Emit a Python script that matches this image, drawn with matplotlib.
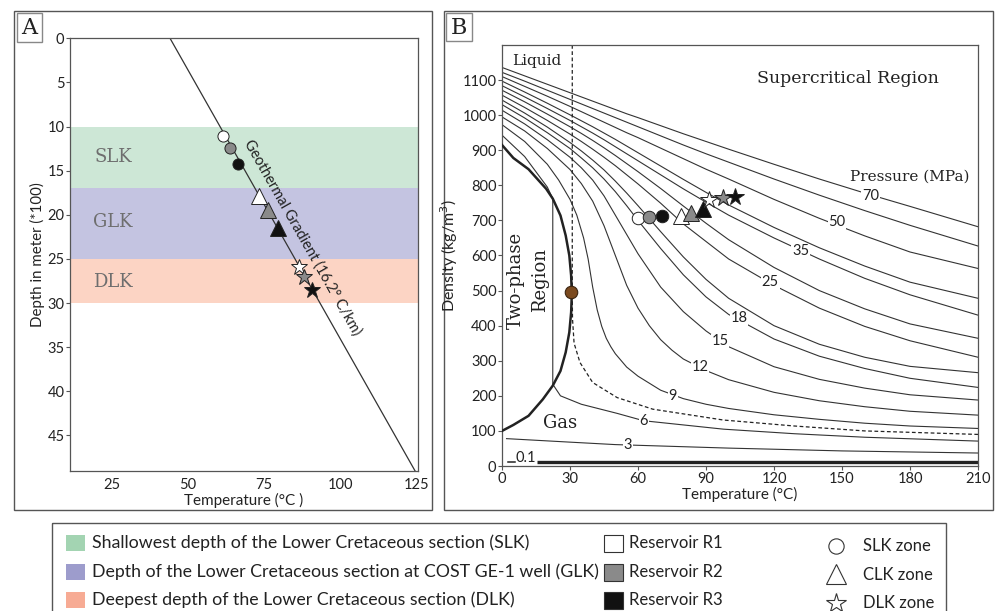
import matplotlib
matplotlib.use('Agg')
import matplotlib.pyplot as plt
from matplotlib.patches import Rectangle

W, H = 996, 611
SANS = 'Lato'
SERIF = 'DejaVu Serif'
plt.rcParams['font.family'] = [SANS, 'DejaVu Sans']

# ---------------- Panel A data ----------------
band_names = ['SLK', 'GLK', 'DLK']
band_top = [10, 17, 25]
band_bottom = [17, 25, 30]
band_colors = ['#cde7d6', '#c4c4e1', '#fcd4c4']
band_label_depth = [13.5, 20.8, 27.6]

gradient_temp = [44.1, 124.4]
gradient_depth = [0, 49]

a_temp = [61.4, 63.8, 66.5, 73.3, 76.3, 79.4, 86.4, 88.1, 90.8]
a_depth = [11.1, 12.4, 14.2, 17.9, 19.5, 21.5, 25.9, 27.1, 28.5]
zone_marker = ['o', 'o', 'o', '^', '^', '^', '*', '*', '*']
res_color = ['#ffffff', '#8a8a8a', '#111111'] * 3

# ---------------- Panel B data ----------------
T_grid = [0, 10, 20, 30, 35, 40, 45, 50, 55, 60, 70, 80, 90, 100, 120, 140, 160, 180, 210]
rho_70 = [1136, 1112, 1088, 1064, 1052, 1040, 1028, 1016, 1004, 993, 970, 947, 925, 903, 860, 818, 778, 740, 682]
rho_60 = [1122, 1097, 1071, 1045, 1032, 1019, 1006, 993, 980, 967, 941, 915, 890, 866, 818, 772, 728, 686, 627]
rho_50 = [1110, 1082, 1054, 1025, 1010, 995, 980, 965, 950, 936, 906, 876, 846, 818, 760, 706, 656, 610, 563]
rho_40 = [1097, 1066, 1034, 1001, 984, 967, 949, 931, 912, 893, 855, 817, 780, 744, 680, 622, 570, 524, 478]
rho_35 = [1084, 1052, 1019, 985, 967, 949, 930, 910, 890, 870, 830, 790, 752, 715, 650, 590, 535, 488, 430]
rho_30 = [1071, 1038, 1003, 967, 948, 928, 907, 885, 862, 839, 791, 741, 692, 645, 566, 500, 448, 405, 364]
rho_25 = [1057, 1022, 985, 946, 925, 903, 880, 856, 830, 804, 749, 690, 640, 590, 515, 450, 398, 357, 310]
rho_20 = [1043, 1006, 966, 922, 898, 872, 844, 812, 778, 742, 668, 596, 532, 478, 400, 347, 310, 284, 266]
rho_18 = [1030, 992, 950, 905, 878, 850, 818, 782, 742, 700, 620, 545, 482, 432, 362, 313, 278, 250, 224]
rho_15 = [1014, 975, 930, 880, 850, 815, 770, 715, 660, 605, 510, 440, 385, 340, 283, 247, 222, 203, 188]

T_12 = [0, 10, 20, 30, 35, 40, 45, 50, 55, 60, 65, 70, 75, 80, 90, 100, 120, 140, 160, 180, 210]
rho_12 = [995, 955, 905, 845, 805, 755, 685, 600, 515, 450, 400, 360, 330, 305, 272, 246, 210, 186, 169, 156, 145]

T_9 = [0, 10, 20, 25, 30, 33, 36, 38, 40, 42, 44, 46, 48, 50, 55, 60, 70, 80, 90, 100, 120, 140, 160, 180, 210]
rho_9 = [973, 925, 860, 815, 760, 715, 650, 590, 510, 445, 398, 364, 340, 320, 282, 256, 216, 192, 176, 164, 146, 133, 122, 114, 107]

T_6 = [0, 10, 20, 22.4, 22.4, 25.8, 35, 50.8, 62.5, 97.7, 129, 160, 210]
rho_6 = [943, 882, 795, 762, 233, 200, 176, 150, 129, 105, 92, 82, 71]
T_3 = [2, 30, 50, 100, 150, 210]
rho_3 = [78, 68, 61, 51, 43, 37]
T_01 = [15.6, 210]
rho_01 = [12, 12]

T_crit = [31, 31, 31.1, 31.8, 34.4, 40, 50.8, 66.5, 97.7, 129, 160, 210]
rho_crit = [1200, 490, 420, 350, 295, 238, 195, 162, 131, 114, 100, 90]

T_sat_liq = [0, 5, 11.7, 19.5, 22.4, 25.8, 28.1, 29.7, 30.5, 30.8]
rho_sat_liq = [915, 878, 846, 790, 762, 714, 657, 600, 543, 490]
T_sat_gas = [0, 5, 11.7, 18, 22.4, 25.8, 28.1, 29.7, 30.5, 30.8]
rho_sat_gas = [100, 117, 143, 190, 229, 271, 324, 381, 438, 490]

crit_point = (30.6, 495)

label_text = ['70', '50', '35', '25', '18', '15', '12', '9', '6', '3', '0.1']
label_T = [162.6, 147.8, 131.8, 118.4, 104.5, 96.2, 87.3, 75.4, 62.5, 55.5, 10.6]
label_rho = [771, 695, 612, 524, 421, 355, 283, 200, 129, 60, 22]

b_temp = [60.0, 65.0, 70.5, 78.8, 83.4, 88.5, 91.5, 97.4, 102.8]
b_rho = [706, 711, 712, 712, 722, 732, 759, 764, 766]

# ---------------- Legend data ----------------
legend_bands = ['Shallowest depth of the Lower Cretaceous section (SLK)',
                'Depth of the Lower Cretaceous section at COST GE-1 well (GLK)',
                'Deepest depth of the Lower Cretaceous section (DLK)']
legend_band_colors = ['#a3d4b2', '#9d9ccc', '#f7ab94']
legend_res = ['Reservoir R1', 'Reservoir R2', 'Reservoir R3']
legend_zones = ['SLK zone', 'CLK zone', 'DLK zone']
legend_zone_markers = ['o', '^', '*']


def rect(l, t, r, b):
    return [l / W, 1 - b / H, (r - l) / W, (b - t) / H]


fig = plt.figure(figsize=(W / 100, H / 100), dpi=100)
fig.patch.set_facecolor('white')

# overlay in pixel coords
ov = fig.add_axes([0, 0, 1, 1])
ov.set_xlim(0, W)
ov.set_ylim(H, 0)
ov.axis('off')
ov.patch.set_alpha(0)

EDGE = '#555555'
TXT = '#222222'
# panel frames
ov.add_patch(Rectangle((14, 11), 418, 499, fill=False, ec=EDGE, lw=1))
ov.add_patch(Rectangle((444, 11), 549, 499, fill=False, ec=EDGE, lw=1))
# panel letters
ov.add_patch(Rectangle((17, 13), 25, 29, fill=False, ec='#888888', lw=1))
ov.text(29.5, 28, 'A', family=SERIF, fontsize=16, ha='center', va='center', color=TXT)
ov.add_patch(Rectangle((446, 13), 26, 28, fill=False, ec='#888888', lw=1))
ov.text(459, 27.5, 'B', family=SERIF, fontsize=16, ha='center', va='center', color=TXT)

# legend frame
ov.add_patch(Rectangle((52, 523), 894, 100, fill=False, ec=EDGE, lw=1))
rows = [543, 572, 600]
for i in range(3):
    y = rows[i]
    ov.add_patch(Rectangle((66, y - 8), 19, 16, fc=legend_band_colors[i], ec='none'))
    ov.text(92, y, legend_bands[i], fontsize=12.8, va='center', ha='left', color=TXT)
    ov.add_patch(Rectangle((604, y - 8), 19, 17, fc=res_color[i], ec='#333333', lw=0.8))
    ov.text(629, y, legend_res[i], fontsize=12, va='center', ha='left', color=TXT)
    ov.plot([836], [rows[i] + (2 if i == 1 else 3)], marker=legend_zone_markers[i],
            ms=[11, 14, 15][i], mfc='white', mec='#333333', mew=0.8, ls='none')
    ov.text(863, y + 3, legend_zones[i], fontsize=12, va='center', ha='left', color=TXT)

# ---------------- Panel A ----------------
axA = fig.add_axes(rect(70, 38.3, 418, 470.7))
axA.set_xlim(11.3, 125.4)
axA.set_ylim(49, 0)
for i in range(3):
    axA.axhspan(band_top[i], band_bottom[i], color=band_colors[i], lw=0, zorder=0)
    axA.text(25.4, band_label_depth[i], band_names[i], family=SERIF, fontsize=13,
             color='#6e6e6e', ha='center', va='center')
axA.plot(gradient_temp, gradient_depth, color='#333333', lw=0.9, zorder=2)
axA.text(87.7, 22.6, 'Geothermal Gradient (16.2° C/km)', rotation=-60.4,
         rotation_mode='anchor', ha='center', va='center', fontsize=10.5, color=TXT)
a_sizes = {'o': 8, '^': 11, '*': 12}
for i in range(len(a_temp)):
    axA.plot(a_temp[i], a_depth[i], marker=zone_marker[i], ms=a_sizes[zone_marker[i]],
             mfc=res_color[i], mec='#222222', mew=0.7, ls='none', zorder=3)
axA.set_yticks([0, 5, 10, 15, 20, 25, 30, 35, 40, 45])
axA.set_xticks([25, 50, 75, 100, 125])
axA.tick_params(axis='y', direction='out', length=3, width=0.8, color=EDGE,
                labelsize=10.5, labelcolor=TXT, pad=1)
axA.tick_params(axis='x', length=0, labelsize=10.5, labelcolor=TXT, pad=5)
for s in axA.spines.values():
    s.set_color(EDGE)
    s.set_linewidth(0.9)
axA.set_ylabel('Depth in meter (*100)', fontsize=10.8, color=TXT, labelpad=2)
axA.set_xlabel('Temperature (°C )', fontsize=11, color=TXT, labelpad=1)

# ---------------- Panel B ----------------
axB = fig.add_axes(rect(502, 45, 978, 466))
axB.set_xlim(0, 210)
axB.set_ylim(0, 1200)
LC = '#333333'
for r in [rho_70, rho_60, rho_50, rho_40, rho_35, rho_30, rho_25, rho_20,
          rho_18, rho_15]:
    axB.plot(T_grid, r, color=LC, lw=0.8, zorder=2)
axB.plot(T_12, rho_12, color=LC, lw=0.8, zorder=2)
axB.plot(T_9, rho_9, color=LC, lw=0.8, zorder=2)
axB.plot(T_6, rho_6, color=LC, lw=0.8, zorder=2)
axB.plot(T_3, rho_3, color=LC, lw=0.8, zorder=2)
axB.plot(T_01, rho_01, color='#222222', lw=2.4, zorder=2, solid_capstyle='butt')
axB.plot([2.6, 5.7], [12, 12], color='#222222', lw=1.1, zorder=2)
axB.plot(T_crit, rho_crit, color='#222222', lw=0.9, ls=(0, (3, 2)), zorder=2)
axB.plot(T_sat_liq, rho_sat_liq, color='#222222', lw=1.8, zorder=3)
axB.plot(T_sat_gas, rho_sat_gas, color='#222222', lw=1.8, zorder=3)
axB.plot([crit_point[0]], [crit_point[1]], marker='o', ms=9, mfc='#7b4a1f',
         mec='#3a2410', mew=0.8, zorder=4)
for i in range(len(label_text)):
    if label_text[i] == '0.1':
        axB.text(label_T[i], label_rho[i], label_text[i], fontsize=10.5, ha='center',
                 va='center', color=TXT, zorder=5)
    else:
        axB.text(label_T[i], label_rho[i], label_text[i], fontsize=10.5, ha='center',
                 va='center', color=TXT, zorder=5,
                 bbox=dict(fc='white', ec='none', pad=0.5))
for i in range(len(b_temp)):
    axB.plot(b_temp[i], b_rho[i], marker=zone_marker[i],
             ms={'o': 9, '^': 11, '*': 13}[zone_marker[i]],
             mfc=res_color[i], mec='#222222', mew=0.7, ls='none', zorder=6)

axB.text(15.4, 1155, 'Liquid', family=SERIF, fontsize=11, ha='center', va='center', color=TXT)
axB.text(152.5, 1105, 'Supercritical Region', family=SERIF, fontsize=12.5, ha='center',
         va='center', color=TXT)
axB.text(179.8, 824, 'Pressure (MPa)', family=SERIF, fontsize=11, ha='center',
         va='center', color=TXT)
axB.text(6.3, 530, 'Two-phase', family=SERIF, fontsize=13, rotation=90, ha='center',
         va='center', color=TXT)
axB.text(17.0, 530, 'Region', family=SERIF, fontsize=13, rotation=90, ha='center',
         va='center', color=TXT)
axB.text(25.8, 122, 'Gas', family=SERIF, fontsize=13, ha='center', va='center', color=TXT)

axB.set_xticks([0, 30, 60, 90, 120, 150, 180, 210])
axB.set_yticks(list(range(0, 1101, 100)))
axB.tick_params(direction='out', length=3, width=0.8, color=EDGE, labelsize=10.5,
                labelcolor=TXT, pad=1)
for s in axB.spines.values():
    s.set_color(EDGE)
    s.set_linewidth(0.9)
axB.set_ylabel('Density (kg/m$^3$)', fontsize=11.5, color=TXT, labelpad=2)
axB.set_xlabel('Temperature (°C)', fontsize=11, color=TXT, labelpad=1)

fig.savefig('out.png', dpi=100)
